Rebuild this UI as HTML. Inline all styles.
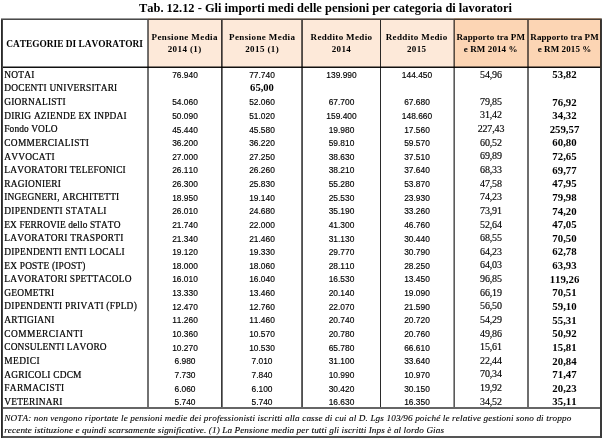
<!DOCTYPE html>
<html><head><meta charset="utf-8"><title>Tab. 12.12</title>
<style>
html,body{margin:0;padding:0;background:#fff;}
body{width:604px;height:443px;position:relative;overflow:hidden;color:#000;font-family:'Liberation Serif','Times New Roman',serif;}
.t{position:absolute;white-space:nowrap;line-height:20px;height:20px;font-kerning:none;}
.c{text-align:center;}
.r{position:absolute;}
.ti{font-size:12.43px;font-weight:bold;}
.ca{font-size:9.37px;font-weight:bold;letter-spacing:0.0px;}
.h1{font-size:9.0px;font-weight:bold;letter-spacing:0.4px;text-indent:0.4px;}
.h2{font-size:9.0px;font-weight:bold;letter-spacing:0.35px;text-indent:0.35px;}
.h3{font-size:9.0px;font-weight:bold;letter-spacing:0.1px;text-indent:0.1px;}
.lb{font-size:9.4px;letter-spacing:0.2px;-webkit-text-stroke:0.2px #000;}
.nm{font-family:'Liberation Sans',Arial,sans-serif;font-size:8.4px;letter-spacing:0.0px;-webkit-text-stroke:0.15px #000;}
.bd{font-size:10.6px;font-weight:bold;}
.r6{font-size:10.0px;letter-spacing:-0.15px;text-indent:-0.15px;-webkit-text-stroke:0.15px #000;}
.r7{font-size:10.8px;font-weight:bold;}
.n1{font-size:9.2px;font-style:italic;letter-spacing:0.125px;-webkit-text-stroke:0.1px #000;}
.n2{font-size:9.2px;font-style:italic;letter-spacing:0.095px;-webkit-text-stroke:0.1px #000;}
</style></head><body>
<div class="r" style="left:148px;top:18px;width:306px;height:50px;background:#fde9d9"></div>
<div class="r" style="left:454px;top:18px;width:147px;height:50px;background:#fcd5b4"></div>
<div class="r" style="left:1px;top:18px;width:601px;height:1px;background:rgba(0,0,0,0.396)"></div>
<div class="r" style="left:1px;top:19px;width:601px;height:1px;background:rgba(0,0,0,0.710)"></div>
<div class="r" style="left:3px;top:66px;width:597px;height:1px;background:rgba(0,0,0,0.467)"></div>
<div class="r" style="left:3px;top:67px;width:597px;height:1px;background:rgba(0,0,0,0.933)"></div>
<div class="r" style="left:3px;top:407px;width:597px;height:2px;background:rgba(0,0,0,0.600)"></div>
<div class="r" style="left:3px;top:436px;width:597px;height:2px;background:rgba(0,0,0,0.667)"></div>
<div class="r" style="left:1px;top:20px;width:1px;height:418px;background:rgba(0,0,0,0.835)"></div>
<div class="r" style="left:2px;top:20px;width:1px;height:418px;background:rgba(0,0,0,0.733)"></div>
<div class="r" style="left:600px;top:20px;width:2px;height:418px;background:rgba(0,0,0,0.773)"></div>
<div class="r" style="left:147px;top:20px;width:1px;height:387px;background:rgba(0,0,0,0.553)"></div>
<div class="r" style="left:148px;top:20px;width:1px;height:387px;background:rgba(0,0,0,0.553)"></div>
<div class="r" style="left:221px;top:20px;width:1px;height:387px;background:rgba(0,0,0,0.773)"></div>
<div class="r" style="left:222px;top:20px;width:1px;height:387px;background:rgba(0,0,0,0.522)"></div>
<div class="r" style="left:301px;top:20px;width:1px;height:387px;background:rgba(0,0,0,0.600)"></div>
<div class="r" style="left:302px;top:20px;width:1px;height:387px;background:rgba(0,0,0,0.686)"></div>
<div class="r" style="left:380px;top:20px;width:1px;height:387px;background:rgba(0,0,0,0.835)"></div>
<div class="r" style="left:453px;top:20px;width:1px;height:387px;background:rgba(0,0,0,0.400)"></div>
<div class="r" style="left:454px;top:20px;width:1px;height:387px;background:rgba(0,0,0,0.647)"></div>
<div class="r" style="left:527px;top:20px;width:1px;height:387px;background:rgba(0,0,0,0.569)"></div>
<div class="r" style="left:528px;top:20px;width:1px;height:387px;background:rgba(0,0,0,0.569)"></div>
<div class="t ti" style="top:-2.50px;left:139.00px">Tab. 12.12 - Gli importi medi delle pensioni per categoria di lavoratori</div>
<div class="t ca c" style="top:33.64px;left:1.60px;width:146px">CATEGORIE DI LAVORATORI</div>
<div class="t h1 c" style="top:26.66px;left:139.50px;width:90px">Pensione Media</div>
<div class="t h1 c" style="top:39.36px;left:139.50px;width:90px">2014 (1)</div>
<div class="t h1 c" style="top:26.66px;left:217.00px;width:90px">Pensione Media</div>
<div class="t h1 c" style="top:39.36px;left:217.00px;width:90px">2015 (1)</div>
<div class="t h2 c" style="top:26.66px;left:296.30px;width:90px">Reddito Medio</div>
<div class="t h2 c" style="top:39.36px;left:296.30px;width:90px">2014</div>
<div class="t h2 c" style="top:26.66px;left:371.50px;width:90px">Reddito Medio</div>
<div class="t h2 c" style="top:39.36px;left:371.50px;width:90px">2015</div>
<div class="t h3 c" style="top:26.66px;left:445.70px;width:90px">Rapporto tra PM</div>
<div class="t h3 c" style="top:39.36px;left:445.70px;width:90px">e RM 2014 %</div>
<div class="t h3 c" style="top:26.66px;left:519.50px;width:90px">Rapporto tra PM</div>
<div class="t h3 c" style="top:39.36px;left:519.50px;width:90px">e RM 2015 %</div>
<div class="t lb" style="top:64.78px;left:4.30px">NOTAI</div>
<div class="t nm c" style="top:65.04px;left:150.00px;width:70px">76.940</div>
<div class="t nm c" style="top:65.04px;left:227.00px;width:70px">77.740</div>
<div class="t nm c" style="top:65.04px;left:306.50px;width:70px">139.990</div>
<div class="t nm c" style="top:65.04px;left:382.00px;width:70px">144.450</div>
<div class="t r6 c" style="top:64.58px;left:456.00px;width:70px">54,96</div>
<div class="t r7 c" style="top:64.31px;left:529.50px;width:70px">53,82</div>
<div class="t lb" style="top:78.41px;left:4.30px">DOCENTI UNIVERSITARI</div>
<div class="t bd c" style="top:78.00px;left:227.00px;width:70px">65,00</div>
<div class="t lb" style="top:92.04px;left:4.30px">GIORNALISTI</div>
<div class="t nm c" style="top:92.30px;left:150.00px;width:70px">54.060</div>
<div class="t nm c" style="top:92.30px;left:227.00px;width:70px">52.060</div>
<div class="t nm c" style="top:92.30px;left:306.50px;width:70px">67.700</div>
<div class="t nm c" style="top:92.30px;left:382.00px;width:70px">67.680</div>
<div class="t r6 c" style="top:91.84px;left:456.00px;width:70px">79,85</div>
<div class="t r7 c" style="top:91.57px;left:529.50px;width:70px">76,92</div>
<div class="t lb" style="top:105.67px;left:4.30px">DIRIG AZIENDE EX INPDAI</div>
<div class="t nm c" style="top:105.93px;left:150.00px;width:70px">50.090</div>
<div class="t nm c" style="top:105.93px;left:227.00px;width:70px">51.020</div>
<div class="t nm c" style="top:105.93px;left:306.50px;width:70px">159.400</div>
<div class="t nm c" style="top:105.93px;left:382.00px;width:70px">148.660</div>
<div class="t r6 c" style="top:105.47px;left:456.00px;width:70px">31,42</div>
<div class="t r7 c" style="top:105.20px;left:529.50px;width:70px">34,32</div>
<div class="t lb" style="letter-spacing:0.100px;top:119.30px;left:4.30px">Fondo VOLO</div>
<div class="t nm c" style="top:119.56px;left:150.00px;width:70px">45.440</div>
<div class="t nm c" style="top:119.56px;left:227.00px;width:70px">45.580</div>
<div class="t nm c" style="top:119.56px;left:306.50px;width:70px">19.980</div>
<div class="t nm c" style="top:119.56px;left:382.00px;width:70px">17.560</div>
<div class="t r6 c" style="top:119.09px;left:456.00px;width:70px">227,43</div>
<div class="t r7 c" style="top:118.83px;left:529.50px;width:70px">259,57</div>
<div class="t lb" style="letter-spacing:0.292px;top:132.93px;left:4.30px">COMMERCIALISTI</div>
<div class="t nm c" style="top:133.19px;left:150.00px;width:70px">36.200</div>
<div class="t nm c" style="top:133.19px;left:227.00px;width:70px">36.220</div>
<div class="t nm c" style="top:133.19px;left:306.50px;width:70px">59.810</div>
<div class="t nm c" style="top:133.19px;left:382.00px;width:70px">59.570</div>
<div class="t r6 c" style="top:132.73px;left:456.00px;width:70px">60,52</div>
<div class="t r7 c" style="top:132.46px;left:529.50px;width:70px">60,80</div>
<div class="t lb" style="top:146.56px;left:4.30px">AVVOCATI</div>
<div class="t nm c" style="top:146.82px;left:150.00px;width:70px">27.000</div>
<div class="t nm c" style="top:146.82px;left:227.00px;width:70px">27.250</div>
<div class="t nm c" style="top:146.82px;left:306.50px;width:70px">38.630</div>
<div class="t nm c" style="top:146.82px;left:382.00px;width:70px">37.510</div>
<div class="t r6 c" style="top:146.36px;left:456.00px;width:70px">69,89</div>
<div class="t r7 c" style="top:146.09px;left:529.50px;width:70px">72,65</div>
<div class="t lb" style="top:160.19px;left:4.30px">LAVORATORI TELEFONICI</div>
<div class="t nm c" style="top:160.45px;left:150.00px;width:70px">26.110</div>
<div class="t nm c" style="top:160.45px;left:227.00px;width:70px">26.260</div>
<div class="t nm c" style="top:160.45px;left:306.50px;width:70px">38.210</div>
<div class="t nm c" style="top:160.45px;left:382.00px;width:70px">37.640</div>
<div class="t r6 c" style="top:159.99px;left:456.00px;width:70px">68,33</div>
<div class="t r7 c" style="top:159.72px;left:529.50px;width:70px">69,77</div>
<div class="t lb" style="top:173.82px;left:4.30px">RAGIONIERI</div>
<div class="t nm c" style="top:174.08px;left:150.00px;width:70px">26.300</div>
<div class="t nm c" style="top:174.08px;left:227.00px;width:70px">25.830</div>
<div class="t nm c" style="top:174.08px;left:306.50px;width:70px">55.280</div>
<div class="t nm c" style="top:174.08px;left:382.00px;width:70px">53.870</div>
<div class="t r6 c" style="top:173.62px;left:456.00px;width:70px">47,58</div>
<div class="t r7 c" style="top:173.34px;left:529.50px;width:70px">47,95</div>
<div class="t lb" style="top:187.45px;left:4.30px">INGEGNERI, ARCHITETTI</div>
<div class="t nm c" style="top:187.71px;left:150.00px;width:70px">18.950</div>
<div class="t nm c" style="top:187.71px;left:227.00px;width:70px">19.140</div>
<div class="t nm c" style="top:187.71px;left:306.50px;width:70px">25.530</div>
<div class="t nm c" style="top:187.71px;left:382.00px;width:70px">23.930</div>
<div class="t r6 c" style="top:187.25px;left:456.00px;width:70px">74,23</div>
<div class="t r7 c" style="top:186.97px;left:529.50px;width:70px">79,98</div>
<div class="t lb" style="letter-spacing:0.288px;top:201.08px;left:4.30px">DIPENDENTI STATALI</div>
<div class="t nm c" style="top:201.34px;left:150.00px;width:70px">26.010</div>
<div class="t nm c" style="top:201.34px;left:227.00px;width:70px">24.680</div>
<div class="t nm c" style="top:201.34px;left:306.50px;width:70px">35.190</div>
<div class="t nm c" style="top:201.34px;left:382.00px;width:70px">33.260</div>
<div class="t r6 c" style="top:200.88px;left:456.00px;width:70px">73,91</div>
<div class="t r7 c" style="top:200.60px;left:529.50px;width:70px">74,20</div>
<div class="t lb" style="letter-spacing:0.082px;top:214.71px;left:4.30px">EX FERROVIE dello STATO</div>
<div class="t nm c" style="top:214.97px;left:150.00px;width:70px">21.740</div>
<div class="t nm c" style="top:214.97px;left:227.00px;width:70px">22.000</div>
<div class="t nm c" style="top:214.97px;left:306.50px;width:70px">41.300</div>
<div class="t nm c" style="top:214.97px;left:382.00px;width:70px">46.760</div>
<div class="t r6 c" style="top:214.50px;left:456.00px;width:70px">52,64</div>
<div class="t r7 c" style="top:214.23px;left:529.50px;width:70px">47,05</div>
<div class="t lb" style="letter-spacing:0.247px;top:228.34px;left:4.30px">LAVORATORI TRASPORTI</div>
<div class="t nm c" style="top:228.60px;left:150.00px;width:70px">21.340</div>
<div class="t nm c" style="top:228.60px;left:227.00px;width:70px">21.460</div>
<div class="t nm c" style="top:228.60px;left:306.50px;width:70px">31.130</div>
<div class="t nm c" style="top:228.60px;left:382.00px;width:70px">30.440</div>
<div class="t r6 c" style="top:228.13px;left:456.00px;width:70px">68,55</div>
<div class="t r7 c" style="top:227.86px;left:529.50px;width:70px">70,50</div>
<div class="t lb" style="top:241.97px;left:4.30px">DIPENDENTI ENTI LOCALI</div>
<div class="t nm c" style="top:242.23px;left:150.00px;width:70px">19.120</div>
<div class="t nm c" style="top:242.23px;left:227.00px;width:70px">19.330</div>
<div class="t nm c" style="top:242.23px;left:306.50px;width:70px">29.770</div>
<div class="t nm c" style="top:242.23px;left:382.00px;width:70px">30.790</div>
<div class="t r6 c" style="top:241.76px;left:456.00px;width:70px">64,23</div>
<div class="t r7 c" style="top:241.49px;left:529.50px;width:70px">62,78</div>
<div class="t lb" style="top:255.60px;left:4.30px">EX POSTE (IPOST)</div>
<div class="t nm c" style="top:255.86px;left:150.00px;width:70px">18.000</div>
<div class="t nm c" style="top:255.86px;left:227.00px;width:70px">18.060</div>
<div class="t nm c" style="top:255.86px;left:306.50px;width:70px">28.110</div>
<div class="t nm c" style="top:255.86px;left:382.00px;width:70px">28.250</div>
<div class="t r6 c" style="top:255.40px;left:456.00px;width:70px">64,03</div>
<div class="t r7 c" style="top:255.13px;left:529.50px;width:70px">63,93</div>
<div class="t lb" style="top:269.23px;left:4.30px">LAVORATORI SPETTACOLO</div>
<div class="t nm c" style="top:269.49px;left:150.00px;width:70px">16.010</div>
<div class="t nm c" style="top:269.49px;left:227.00px;width:70px">16.040</div>
<div class="t nm c" style="top:269.49px;left:306.50px;width:70px">16.530</div>
<div class="t nm c" style="top:269.49px;left:382.00px;width:70px">13.450</div>
<div class="t r6 c" style="top:269.03px;left:456.00px;width:70px">96,85</div>
<div class="t r7 c" style="top:268.76px;left:529.50px;width:70px">119,26</div>
<div class="t lb" style="top:282.86px;left:4.30px">GEOMETRI</div>
<div class="t nm c" style="top:283.12px;left:150.00px;width:70px">13.330</div>
<div class="t nm c" style="top:283.12px;left:227.00px;width:70px">13.460</div>
<div class="t nm c" style="top:283.12px;left:306.50px;width:70px">20.140</div>
<div class="t nm c" style="top:283.12px;left:382.00px;width:70px">19.090</div>
<div class="t r6 c" style="top:282.66px;left:456.00px;width:70px">66,19</div>
<div class="t r7 c" style="top:282.39px;left:529.50px;width:70px">70,51</div>
<div class="t lb" style="letter-spacing:0.246px;top:296.49px;left:4.30px">DIPENDENTI PRIVATI (FPLD)</div>
<div class="t nm c" style="top:296.75px;left:150.00px;width:70px">12.470</div>
<div class="t nm c" style="top:296.75px;left:227.00px;width:70px">12.760</div>
<div class="t nm c" style="top:296.75px;left:306.50px;width:70px">22.070</div>
<div class="t nm c" style="top:296.75px;left:382.00px;width:70px">21.590</div>
<div class="t r6 c" style="top:296.29px;left:456.00px;width:70px">56,50</div>
<div class="t r7 c" style="top:296.02px;left:529.50px;width:70px">59,10</div>
<div class="t lb" style="top:310.12px;left:4.30px">ARTIGIANI</div>
<div class="t nm c" style="top:310.38px;left:150.00px;width:70px">11.260</div>
<div class="t nm c" style="top:310.38px;left:227.00px;width:70px">11.460</div>
<div class="t nm c" style="top:310.38px;left:306.50px;width:70px">20.740</div>
<div class="t nm c" style="top:310.38px;left:382.00px;width:70px">20.720</div>
<div class="t r6 c" style="top:309.92px;left:456.00px;width:70px">54,29</div>
<div class="t r7 c" style="top:309.65px;left:529.50px;width:70px">55,31</div>
<div class="t lb" style="letter-spacing:0.473px;top:323.75px;left:4.30px">COMMERCIANTI</div>
<div class="t nm c" style="top:324.01px;left:150.00px;width:70px">10.360</div>
<div class="t nm c" style="top:324.01px;left:227.00px;width:70px">10.570</div>
<div class="t nm c" style="top:324.01px;left:306.50px;width:70px">20.780</div>
<div class="t nm c" style="top:324.01px;left:382.00px;width:70px">20.760</div>
<div class="t r6 c" style="top:323.55px;left:456.00px;width:70px">49,86</div>
<div class="t r7 c" style="top:323.28px;left:529.50px;width:70px">50,92</div>
<div class="t lb" style="letter-spacing:0.125px;top:337.38px;left:4.30px">CONSULENTI LAVORO</div>
<div class="t nm c" style="top:337.64px;left:150.00px;width:70px">10.270</div>
<div class="t nm c" style="top:337.64px;left:227.00px;width:70px">10.530</div>
<div class="t nm c" style="top:337.64px;left:306.50px;width:70px">65.780</div>
<div class="t nm c" style="top:337.64px;left:382.00px;width:70px">66.610</div>
<div class="t r6 c" style="top:337.18px;left:456.00px;width:70px">15,61</div>
<div class="t r7 c" style="top:336.91px;left:529.50px;width:70px">15,81</div>
<div class="t lb" style="letter-spacing:0.400px;top:351.01px;left:4.30px">MEDICI</div>
<div class="t nm c" style="top:351.27px;left:150.00px;width:70px">6.980</div>
<div class="t nm c" style="top:351.27px;left:227.00px;width:70px">7.010</div>
<div class="t nm c" style="top:351.27px;left:306.50px;width:70px">31.100</div>
<div class="t nm c" style="top:351.27px;left:382.00px;width:70px">33.640</div>
<div class="t r6 c" style="top:350.81px;left:456.00px;width:70px">22,44</div>
<div class="t r7 c" style="top:350.54px;left:529.50px;width:70px">20,84</div>
<div class="t lb" style="top:364.64px;left:4.30px">AGRICOLI CDCM</div>
<div class="t nm c" style="top:364.90px;left:150.00px;width:70px">7.730</div>
<div class="t nm c" style="top:364.90px;left:227.00px;width:70px">7.840</div>
<div class="t nm c" style="top:364.90px;left:306.50px;width:70px">10.990</div>
<div class="t nm c" style="top:364.90px;left:382.00px;width:70px">10.970</div>
<div class="t r6 c" style="top:364.44px;left:456.00px;width:70px">70,34</div>
<div class="t r7 c" style="top:364.17px;left:529.50px;width:70px">71,47</div>
<div class="t lb" style="letter-spacing:0.344px;top:378.27px;left:4.30px">FARMACISTI</div>
<div class="t nm c" style="top:378.53px;left:150.00px;width:70px">6.060</div>
<div class="t nm c" style="top:378.53px;left:227.00px;width:70px">6.100</div>
<div class="t nm c" style="top:378.53px;left:306.50px;width:70px">30.420</div>
<div class="t nm c" style="top:378.53px;left:382.00px;width:70px">30.150</div>
<div class="t r6 c" style="top:378.06px;left:456.00px;width:70px">19,92</div>
<div class="t r7 c" style="top:377.80px;left:529.50px;width:70px">20,23</div>
<div class="t lb" style="top:391.90px;left:4.30px">VETERINARI</div>
<div class="t nm c" style="top:392.16px;left:150.00px;width:70px">5.740</div>
<div class="t nm c" style="top:392.16px;left:227.00px;width:70px">5.740</div>
<div class="t nm c" style="top:392.16px;left:306.50px;width:70px">16.630</div>
<div class="t nm c" style="top:392.16px;left:382.00px;width:70px">16.350</div>
<div class="t r6 c" style="top:391.69px;left:456.00px;width:70px">34,52</div>
<div class="t r7 c" style="top:391.43px;left:529.50px;width:70px">35,11</div>
<div class="t n1" style="top:408.19px;left:4.20px">NOTA: non vengono riportate le pensioni medie dei professionisti iscritti alla casse di cui al D. Lgs 103/96 poiché le relative gestioni sono di troppo</div>
<div class="t n2" style="top:420.39px;left:4.20px">recente istituzione e quindi scarsamente significative. (1) La Pensione media per tutti gli iscritti Inps è al lordo Gias</div>
</body></html>
